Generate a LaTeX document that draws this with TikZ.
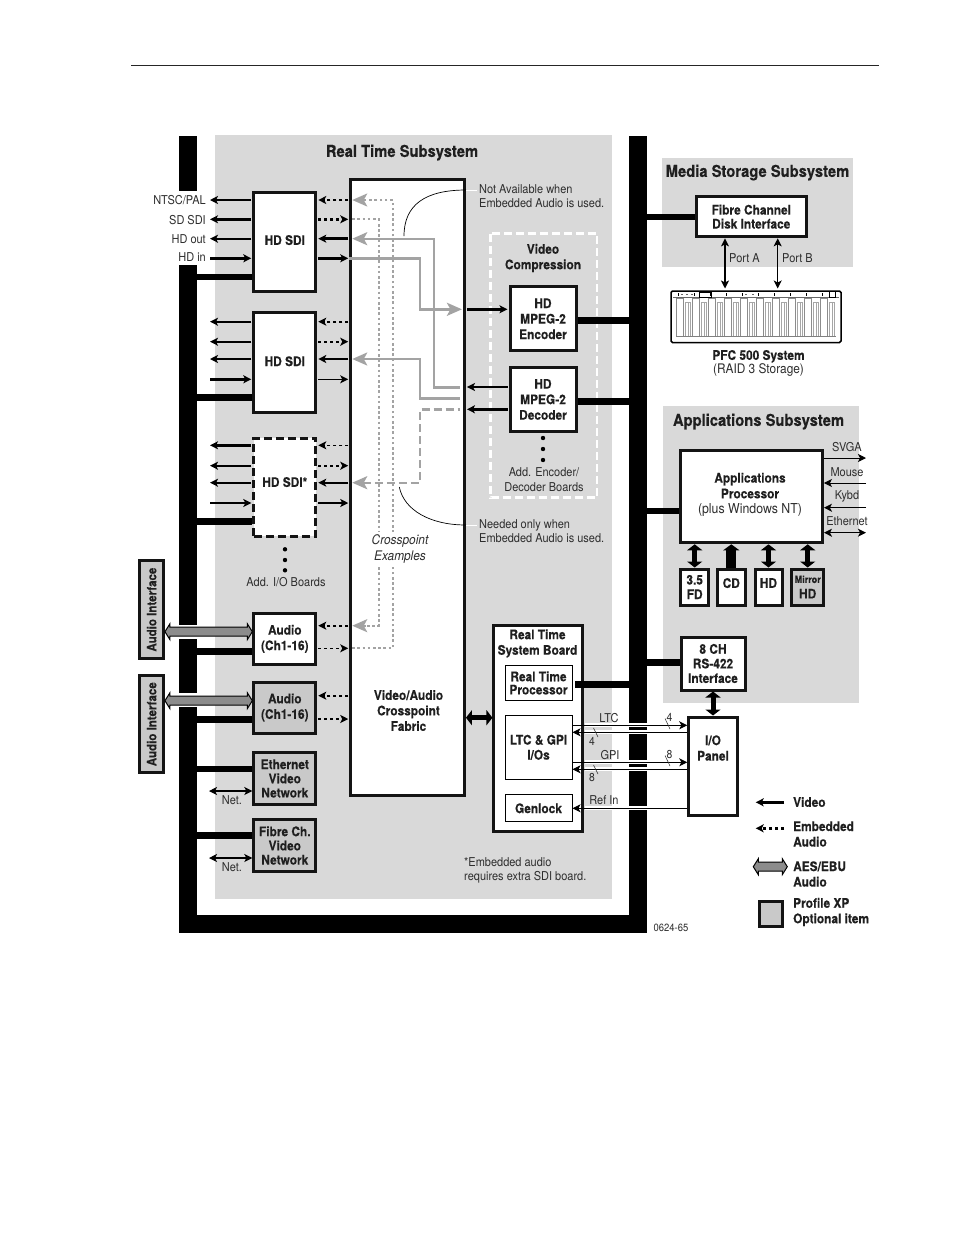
\documentclass[tikz,border=0pt]{standalone}
\usepackage{fontspec}
\setmainfont{TeX Gyre Heros}[FakeStretch=0.9,BoldFeatures={FakeBold=0.22}]
\usetikzlibrary{arrows.meta,calc}
\definecolor{panel}{HTML}{D9D9D9}
\definecolor{opt}{HTML}{C9C9C9}
\definecolor{xp}{HTML}{A3A3A3}
\definecolor{aesg}{HTML}{8C8C8C}
\definecolor{lab}{HTML}{2E2E2E}
\tikzset{
  tipm/.tip={Stealth[length=8pt,width=8pt,inset=2pt]},
  tipg/.tip={Stealth[length=15pt,width=13pt,inset=3.5pt]},
  tipb/.tip={Triangle[length=6pt,width=15pt]},
  bx/.style={draw=black!92,line width=3pt,fill=white,inner sep=0pt,align=center,font=\bfseries\fontsize{13.2}{15.5}\selectfont,text=black!88},
  optbx/.style={bx,fill=opt},
  dashbx/.style={bx,dash pattern=on 8pt off 4pt},
  thinbx/.style={draw=black,line width=1pt,fill=white,inner sep=0pt,align=center,font=\bfseries\fontsize{13.2}{15}\selectfont,text=black!88},
  title/.style={inner sep=0pt,font=\bfseries\fontsize{16.4}{18}\selectfont,text=black!88},
  bold/.style={inner sep=0pt,align=center,font=\bfseries\fontsize{13.2}{15.5}\selectfont,text=black!88},
  lbl/.style={inner sep=0pt,align=left,font=\fontsize{12.2}{14.3}\selectfont,text=lab},
  clbl/.style={inner sep=0pt,align=center,font=\fontsize{12.2}{14.8}\selectfont,text=lab},
  bus/.style={line width=6.5pt,black},
  thn/.style={line width=1.6pt,black,-tipm,shorten >=1pt,shorten <=1pt},
  thk/.style={line width=2.6pt,black,-tipm,shorten >=1pt,shorten <=1pt},
  ethn/.style={thn,dash pattern=on 3pt off 3pt},
  ethk/.style={thk,dash pattern=on 3pt off 3pt},
  hair/.style={line width=1pt,black,-tipm},
  hairb/.style={line width=1pt,black,tipm-tipm},
  halo/.style={line width=3.8pt,white},
  gsol/.style={line width=2.4pt,xp},
  gdash/.style={gsol,dash pattern=on 8pt off 4pt},
  gdot/.style={line width=2.2pt,xp,dash pattern=on 2.6pt off 2.6pt},
  big/.style={line width=5pt,black,tipb-tipb,shorten <=0pt,shorten >=0pt},
  lead/.style={line width=.7pt,black},
  aes/.style={draw=black,line width=1pt,fill=aesg,line join=miter},
  tick/.style={line width=.5pt,lab},
  dotn/.style={circle,fill=black,inner sep=0pt,minimum size=4.4pt},
}
\newcommand{\aesarrow}[2]{%
  \draw[aes] let \p1=(#1),\p2=(#2) in
    (\x1,\y1) -- (\x1+5pt,\y1+8pt) -- (\x1+5pt,\y1+4.5pt) -- (\x2-5pt,\y1+4.5pt)
    -- (\x2-5pt,\y1+8pt) -- (\x2,\y1) -- (\x2-5pt,\y1-8pt) -- (\x2-5pt,\y1-4.5pt)
    -- (\x1+5pt,\y1-4.5pt) -- (\x1+5pt,\y1-8pt) -- cycle;}
\begin{document}
\begin{tikzpicture}[x=1pt,y=-1pt]
\useasboundingbox (0,0) rectangle (954,1235);
\fill[white] (0,0) rectangle (954,1235);
% page rule
\draw[line width=.8pt,black!85] (131,65.5) -- (879,65.5);
% panels
\fill[panel] (215,135) rectangle (612,899);
\fill[panel] (662,158) rectangle (853,267);
\fill[panel] (663,406) rectangle (859,703);
% bus
\fill[black] (179,136) rectangle (197,191);
\fill[black] (179,265) rectangle (197,625);
\fill[black] (179,639) rectangle (197,693);
\fill[black] (179,707) rectangle (197,933);
\fill[black] (179,915) rectangle (647,933);
\fill[black] (629,136) rectangle (647,933);
\coordinate (busL) at (197,0);
\coordinate (busR) at (629,0);
\coordinate (busRe) at (647,0);
\coordinate (Lend) at (209,0);
% titles
\node[title] (t1) at (402,152.6) {Real Time Subsystem};
\node[title] (t2) at (757.5,172.6) {Media Storage Subsystem};
\node[title] (t3) at (758.5,421.6) {Applications Subsystem};
% video compression frame
\draw[white,line width=2.6pt,dash pattern=on 8pt off 4pt] (490.5,233.5) rectangle (597,497.5);
\node[bold] (vc) at (543,258) {Video\\Compression};
% boxes
\node[bx,minimum width=62pt,minimum height=99.6pt] (sdi1) at (284.8,242) {\raisebox{4pt}{HD SDI}};
\node[bx,minimum width=62pt,minimum height=99.5pt] (sdi2) at (284.8,362.7) {\raisebox{3pt}{HD SDI}};
\node[dashbx,minimum width=62pt,minimum height=98pt] (sdi3) at (284.8,487) {\raisebox{10pt}{HD SDI*}};
\node[bx,minimum width=62pt,minimum height=51.5pt] (aud1) at (284.8,638.8) {Audio\\(Ch1-16)};
\node[optbx,minimum width=62pt,minimum height=51pt] (aud2) at (284.8,707.5) {Audio\\(Ch1-16)};
\node[optbx,minimum width=62pt,minimum height=52pt,font=\bfseries\fontsize{13.2}{14.2}\selectfont] (eth) at (284.8,778.5) {Ethernet\\Video\\Network};
\node[optbx,minimum width=62pt,minimum height=52pt,font=\bfseries\fontsize{13.2}{14.2}\selectfont] (fib) at (284.8,845.5) {Fibre Ch.\\Video\\Network};
\node[bx,minimum width=113.7pt,minimum height=615.2pt] (fab) at (407.6,487.4) {};
\node[bx,minimum width=66pt,minimum height=63.7pt] (enc) at (543,318.8) {HD\\MPEG-2\\Encoder};
\node[bx,minimum width=66pt,minimum height=64.8pt] (dec) at (543,399.4) {HD\\MPEG-2\\Decoder};
\node[bx,minimum width=88.5pt,minimum height=205.4pt] (rtb) at (538.2,728.5) {};
\node[thinbx,minimum width=67pt,minimum height=34.7pt] (rtp) at (538.5,683.3) {\raisebox{.8pt}{\shortstack{Real Time\\[.4pt]Processor}}};
\node[thinbx,minimum width=67pt,minimum height=64pt] (ltc) at (538.5,747.3) {LTC \& GPI\\I/Os};
\node[thinbx,minimum width=67pt,minimum height=27pt] (gen) at (538.5,808.3) {Genlock};
\node[bx,minimum width=49pt,minimum height=98pt] (iop) at (713.3,766) {};
\node[bx,minimum width=64pt,minimum height=53pt,font=\bfseries\fontsize{13.2}{14.6}\selectfont] (rs) at (713,663.5) {8 CH\\RS-422\\Interface};
\node[bx,minimum width=109.5pt,minimum height=40.3pt,font=\bfseries\fontsize{13.2}{14}\selectfont] (fc) at (751.3,216.7) {Fibre Channel\\Disk Interface};
\node[bx,minimum width=141.5pt,minimum height=92.8pt] (app) at (751.7,496.4) {};
\node[bx,minimum width=27.5pt,minimum height=36pt,font=\bfseries\fontsize{13.2}{14.5}\selectfont] (fd) at (694.7,587) {3.5\\FD};
\node[bx,minimum width=27.5pt,minimum height=36pt] (cd) at (731.3,587) {\raisebox{8pt}{CD}};
\node[bx,minimum width=27pt,minimum height=36pt] (hd) at (768.5,587) {\raisebox{8pt}{HD}};
\node[optbx,minimum width=32.5pt,minimum height=36pt,align=center] (mir) at (807.7,587) {{\fontsize{10}{10}\selectfont Mirror}\\HD};
\node[optbx,rotate=90,minimum width=97.5pt,minimum height=23.7pt,font=\bfseries\fontsize{12.8}{14}\selectfont] (ai1) at (151.6,609.6) {Audio Interface};
\node[optbx,rotate=90,minimum width=97pt,minimum height=23.7pt,font=\bfseries\fontsize{12.8}{14}\selectfont] (ai2) at (151.6,724.2) {Audio Interface};
\node[bold] (fabl) at (408.5,710.5) {Video/Audio\\Crosspoint\\Fabric};
\node[bold] (rtbl) at (537.5,643.5) {Real Time\\System Board};
\node[bold] (iopl) at (713,748) {I/O\\Panel};
\node[bold,font=\bfseries\fontsize{13.2}{15.7}\selectfont] (appl) at (750,485.6) {Applications\\Processor};
\node[clbl,font=\fontsize{13.7}{15}\selectfont] (appw) at (750,509.6) {(plus Windows NT)};
% bus stubs
\foreach \n/\y in {sdi1/277,sdi2/397.7,sdi3/521.7,aud1/651.7,aud2/719.7,eth/769,fib/835.7}
  \draw[bus] (busL |- 0,\y) -- (\n.west |- 0,\y);
\foreach \n/\y in {enc/320.3,dec/401.3}
  \draw[bus] (busR |- 0,\y) -- (\n.east |- 0,\y);
\draw[bus,shorten >=-9pt] (busR |- 0,684.7) -- (rtb.east |- 0,684.7);
\foreach \n/\y in {rs/662.7,fc/217,app/511}
  \draw[bus] (busRe |- 0,\y) -- (\n.west |- 0,\y);
% HD SDI 1
\draw[thn] (sdi1.west |- 0,200) -- (Lend |- 0,200);
\draw[thk] (sdi1.west |- 0,219.3) -- (Lend |- 0,219.3);
\draw[thn] (sdi1.west |- 0,238.7) -- (Lend |- 0,238.7);
\draw[thk] (Lend |- 0,258.3) -- (sdi1.west |- 0,258.3);
\draw[ethn] (fab.west |- 0,200) -- (sdi1.east |- 0,200);
\draw[ethk] (sdi1.east |- 0,219.3) -- (fab.west |- 0,219.3);
\draw[thk] (fab.west |- 0,238.7) -- (sdi1.east |- 0,238.7);
\draw[thk] (sdi1.east |- 0,258.3) -- (fab.west |- 0,258.3);
% HD SDI 2
\draw[thn] (sdi2.west |- 0,321.7) -- (Lend |- 0,321.7);
\draw[thn] (sdi2.west |- 0,341.7) -- (Lend |- 0,341.7);
\draw[thk] (sdi2.west |- 0,359) -- (Lend |- 0,359);
\draw[thk] (Lend |- 0,379.3) -- (sdi2.west |- 0,379.3);
\draw[ethn] (fab.west |- 0,321.7) -- (sdi2.east |- 0,321.7);
\draw[ethn] (sdi2.east |- 0,341.7) -- (fab.west |- 0,341.7);
\draw[thn] (fab.west |- 0,359) -- (sdi2.east |- 0,359);
\draw[thn] (sdi2.east |- 0,379.3) -- (fab.west |- 0,379.3);
% HD SDI 3
\draw[thk] (sdi3.west |- 0,445.3) -- (Lend |- 0,445.3);
\draw[thn] (sdi3.west |- 0,465.7) -- (Lend |- 0,465.7);
\draw[thn] (sdi3.west |- 0,482.7) -- (Lend |- 0,482.7);
\draw[thn] (Lend |- 0,503) -- (sdi3.west |- 0,503);
\draw[ethn] (fab.west |- 0,445.3) -- (sdi3.east |- 0,445.3);
\draw[ethn] (sdi3.east |- 0,465.7) -- (fab.west |- 0,465.7);
\draw[thn] (fab.west |- 0,482.7) -- (sdi3.east |- 0,482.7);
\draw[thn] (sdi3.east |- 0,503) -- (fab.west |- 0,503);
% audio
\draw[ethn] (fab.west |- 0,625.7) -- (aud1.east |- 0,625.7);
\draw[ethn] (aud1.east |- 0,648.3) -- (fab.west |- 0,648.3);
\draw[ethn] (fab.west |- 0,695.7) -- (aud2.east |- 0,695.7);
\draw[ethn] (aud2.east |- 0,719) -- (fab.west |- 0,719);
% AES
\aesarrow{ai1.south |- 0,631.7}{aud1.west |- 0,631.7}
\aesarrow{ai2.south |- 0,700.7}{aud2.west |- 0,700.7}
% net
\draw[hairb,line width=1.2pt] (Lend |- 0,791) -- (eth.west |- 0,791);
\draw[hairb,line width=1.2pt] (Lend |- 0,858) -- (fib.west |- 0,858);
\node[lbl] (n1) at (232,800) {Net.};
\node[lbl] (n2) at (232,867) {Net.};
% grey crosspoints
\coordinate (xa) at (378.7,0);
\coordinate (xb) at (392.7,0);
\coordinate (xc) at (420,0);
\coordinate (xd) at (434,0);
\draw[gdot] (fab.west |- 0,648.3) ++(3,0) -- (xb |- 0,648.3) -- (xb |- 0,200) -- ++(-26,0);
\draw[gdot] (fab.west |- 0,219.3) ++(3,0) -- (xa |- 0,219.3) -- (xa |- 0,625.7) -- ++(-12,0);
\draw[xp,line width=2pt,tipg-] (fab.west |- 0,200) ++(3,0) -- ++(14,0);
\draw[xp,line width=2pt,tipg-] (fab.west |- 0,625.7) ++(3,0) -- ++(14,0);
\draw[gsol,tipg-,shorten <=3pt] (fab.west |- 0,238.7) -- (xd |- 0,238.7) -- (xd |- 0,387.3) -- (460,387.3);
\draw[gsol,-tipg,shorten >=4pt] (fab.west |- 0,258.3) -- (xc |- 0,258.3) -- (xc |- 0,309.3) -- (fab.east |- 0,309.3);
\draw[gsol,tipg-,shorten <=3pt] (fab.west |- 0,359) -- (xc |- 0,359) -- (xc |- 0,398.3) -- (460,398.3);
\draw[gdash,tipg-,shorten <=3pt] (fab.west |- 0,482.7) -- (xc |- 0,482.7) -- (xc |- 0,409.3) -- (460,409.3);
\node[fill=white,inner sep=2pt,align=center,font=\itshape\fontsize{13.2}{16}\selectfont,text=lab] (cx) at (400,548.5) {Crosspoint\\Examples};
% compression arrows
\draw[thk] (fab.east |- 0,309.3) -- (enc.west |- 0,309.3);
\draw[thn] (dec.west |- 0,387) -- (fab.east |- 0,387);
\draw[thk] (dec.west |- 0,409.3) -- (fab.east |- 0,409.3);
\node[dotn] (ed1) at (543,438) {}; \node[dotn] (ed2) at (543,449) {}; \node[dotn] (ed3) at (543,460) {};
\node[clbl] (addenc) at (544,479.5) {Add. Encoder/\\Decoder Boards};
\node[dotn] (id1) at (285,549.3) {}; \node[dotn] (id2) at (285,560) {}; \node[dotn] (id3) at (285,570.3) {};
\node[clbl] (addio) at (286,582) {Add. I/O Boards};
% left labels
\node[lbl,anchor=east] (l1) at (206,200) {NTSC/PAL};
\node[lbl,anchor=east] (l2) at (206,220) {SD SDI};
\node[lbl,anchor=east] (l3) at (206,239) {HD out};
\node[lbl,anchor=east] (l4) at (206,257) {HD in};
% notes
\node[lbl,anchor=west] (note1) at (479,196.2) {Not Available when\\Embedded Audio is used.};
\node[lbl,anchor=west] (note2) at (479,531.2) {Needed only when\\Embedded Audio is used.};
\node[lbl,anchor=west] (star) at (464,870.5) {*Embedded audio\\requires extra SDI board.};
\coordinate (c1a) at (404,236);
\coordinate (c1b) at (466,190);
\coordinate (c1c) at (477,190);
\coordinate (c2a) at (399.3,487);
\coordinate (c2b) at (466,525);
\coordinate (c2c) at (477,525);
\draw[lead] (c1a) .. controls (404,205) and (425,190) .. (c1b);
\draw[line width=.8pt,white] (c1b) -- (c1c);
\draw[lead] (c2a) .. controls (404,510) and (430,525) .. (c2b);
\draw[line width=.8pt,white] (c2b) -- (c2c);
% big arrows
\draw[big] (fab.east |- 0,717.7) -- (rtb.west |- 0,717.7);
\draw[big] (rs.south) -- (iop.north -| rs.south);
\draw[big] (app.south -| fd) -- (fd.north);
\draw[line width=10pt,black,-{Triangle[length=6pt,width=16pt]}] (cd.north) -- (app.south -| cd);
\draw[big] (app.south -| hd) -- (hd.north);
\draw[big] (app.south -| mir) -- (mir.north);
% system board links
\foreach \y in {725.3,732.3,762.3,769.3}
  \draw[halo] (ltc.east |- 0,\y) ++(12,0) -- (iop.west |- 0,\y);
\draw[halo] (gen.east |- 0,808.3) ++(12,0) -- (iop.west |- 0,808.3);
\draw[hair] (ltc.east |- 0,725.3) -- (iop.west |- 0,725.3);
\draw[hair] (iop.west |- 0,732.3) -- (ltc.east |- 0,732.3);
\draw[hair] (ltc.east |- 0,762.3) -- (iop.west |- 0,762.3);
\draw[hair] (iop.west |- 0,769.3) -- (ltc.east |- 0,769.3);
\draw[hair] (iop.west |- 0,808.3) -- (gen.east |- 0,808.3);
\node[lbl] (lltc) at (609,718) {LTC};
\node[lbl] (lgpi) at (610,755) {GPI};
\node[lbl] (lref) at (604,800) {Ref In};
\coordinate (t1a) at (665,718.5); \coordinate (t1b) at (670,729);
\coordinate (t2a) at (593.5,728); \coordinate (t2b) at (598,737);
\coordinate (t3a) at (665,755.5); \coordinate (t3b) at (670,766);
\coordinate (t4a) at (593.5,765); \coordinate (t4b) at (598,774);
\draw[tick] (t1a) -- (t1b); \draw[tick] (t2a) -- (t2b);
\draw[tick] (t3a) -- (t3b); \draw[tick] (t4a) -- (t4b);
\node[lbl,font=\fontsize{11.5}{12}\selectfont] (nA) at (669.5,717) {4};
\node[lbl,font=\fontsize{11.5}{12}\selectfont] (nB) at (592,741) {4};
\node[lbl,font=\fontsize{11.5}{12}\selectfont] (nC) at (669.5,754) {8};
\node[lbl,font=\fontsize{11.5}{12}\selectfont] (nD) at (592,777) {8};
% media storage
\draw[rounded corners=1.5pt,line width=1.5pt,fill=white] (671,291) rectangle (841,342.5);
\node[inner sep=0pt,minimum size=0pt] (pfc) at (756,291) {};
\draw[hairb,line width=1.1pt] (fc.south -| 725,0) -- (725,288.5);
\draw[hairb,line width=1.1pt] (fc.south -| 777.7,0) -- (777.7,288.5);
\node[lbl,anchor=west] (pa) at (729,258) {Port A};
\node[lbl,anchor=west] (pb) at (782,258) {Port B};
\node[bold] (pfcl) at (758.5,356.4) {PFC 500 System};
\node[clbl,font=\fontsize{13.2}{15}\selectfont] (pfcs) at (758.5,370.4) {(RAID 3 Storage)};
% drive bays
\draw[line width=.5pt,black!60] (673,297.5) -- (839,297.5);
\foreach \i in {0,1,...,9}{
  \pgfmathsetmacro{\xx}{676.5+16*\i}
  \draw[line width=.5pt,black!45,fill=white] (\xx,298) rectangle ++(7,38);
  \fill[black!35] (\xx+8,302) rectangle ++(6.5,34.5);
  \foreach \k in {1.6,3.2,4.8}\draw[line width=.6pt,white] (\xx+8+\k,303) -- ++(0,33);
  \fill[black] (\xx+1,293) rectangle ++(1,2.5);
}
\draw[line width=.5pt,black!50] (676,336.5) -- (836,336.5);
\draw[line width=.8pt,black] (699.5,292) rectangle (711,297);
\draw[line width=.8pt,black] (829,291.7) rectangle (835,297);
\foreach \x in {681,686,691,745,752}\fill[black!60] (\x,293.5) rectangle ++(1.5,1.5);
% applications IO
\coordinate (Rend) at (866,0);
\draw[hair] (app.east |- 0,458) -- (Rend |- 0,458);
\draw[hair] (Rend |- 0,483) -- (app.east |- 0,483);
\draw[hair] (Rend |- 0,507.7) -- (app.east |- 0,507.7);
\draw[hairb] (app.east |- 0,532.7) -- (Rend |- 0,532.7);
\node[lbl] (ls) at (847,447) {SVGA};
\node[lbl] (lm) at (847,472) {Mouse};
\node[lbl] (lk) at (847,496) {Kybd};
\node[lbl] (le) at (847,521) {Ethernet};
% legend
\coordinate (lgR) at (784,0); \coordinate (lgL) at (755.7,0);
\node[bold,anchor=west] (k1) at (793,802) {Video};
\node[bold,anchor=west,align=left] (k2) at (793,834) {Embedded\\Audio};
\node[bold,anchor=west,align=left] (k3) at (793,874) {AES/EBU\\Audio};
\node[bold,anchor=west,align=left] (k4) at (793,912) {Profile XP\\Optional item};
\draw[thk,shorten <=0pt,shorten >=0pt] (lgR |- 0,802.3) -- (lgL |- 0,802.3);
\draw[ethk,shorten <=0pt,shorten >=0pt] (lgR |- 0,828.3) -- (lgL |- 0,828.3);
\coordinate (ka) at (753.3,866.7); \coordinate (kb) at (787.3,866.7);
\aesarrow{ka}{kb}
\node[optbx,minimum width=22.5pt,minimum height=25pt] (sw) at (771.2,913.5) {};
\node[inner sep=0pt,font=\fontsize{10.5}{10}\selectfont,text=lab] (code) at (671,928) {0624-65};
\end{tikzpicture}
\end{document}
